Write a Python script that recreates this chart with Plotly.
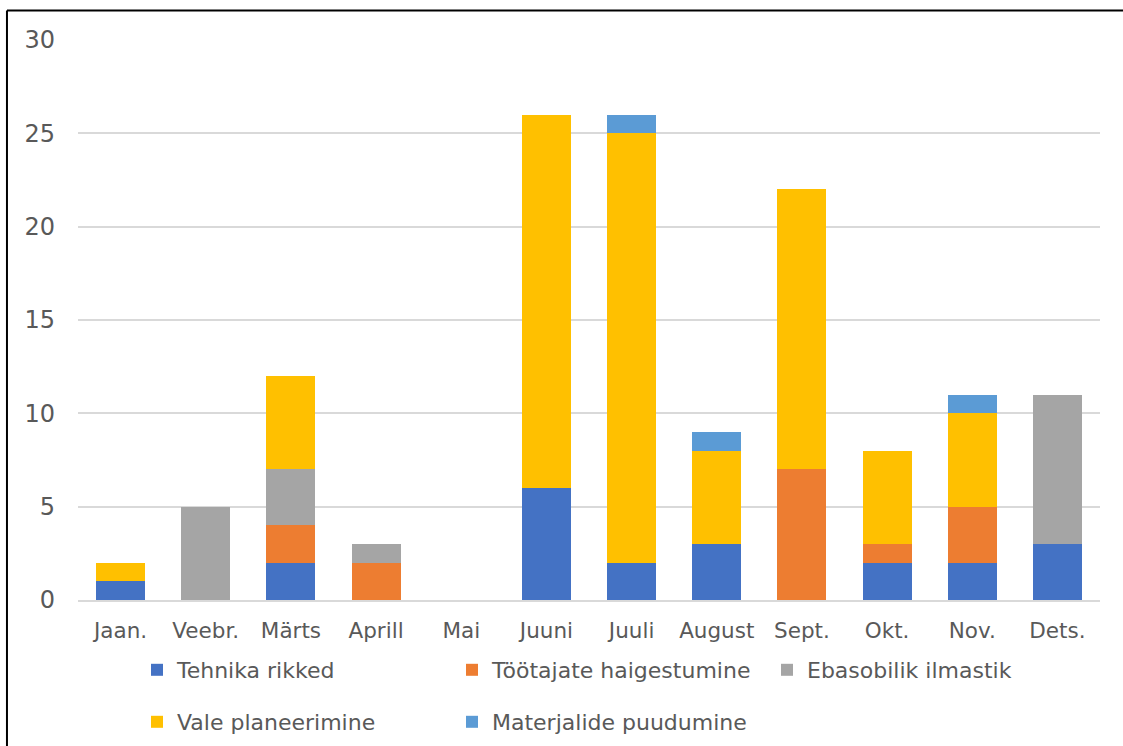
import plotly.graph_objects as go

months = ["Jaan.", "Veebr.", "Märts", "Aprill", "Mai", "Juuni",
          "Juuli", "August", "Sept.", "Okt.", "Nov.", "Dets."]

tehnika_rikked = [1, 0, 2, 0, 0, 6, 2, 3, 0, 2, 2, 3]
tootajate_haigestumine = [0, 0, 2, 2, 0, 0, 0, 0, 7, 1, 3, 0]
ebasobilik_ilmastik = [0, 5, 3, 1, 0, 0, 0, 0, 0, 0, 0, 8]
vale_planeerimine = [1, 0, 5, 0, 0, 20, 23, 5, 15, 5, 5, 0]
materjalide_puudumine = [0, 0, 0, 0, 0, 0, 1, 1, 0, 0, 1, 0]

series = [
    ("Tehnika rikked", tehnika_rikked, "#4472C4", "legend"),
    ("Töötajate haigestumine", tootajate_haigestumine, "#ED7D31", "legend"),
    ("Ebasobilik ilmastik", ebasobilik_ilmastik, "#A5A5A5", "legend"),
    ("Vale planeerimine", vale_planeerimine, "#FFC000", "legend2"),
    ("Materjalide puudumine", materjalide_puudumine, "#5B9BD5", "legend2"),
]

FONT = "DejaVu Sans"
TEXT = "#595959"

fig = go.Figure()
for name, vals, color, leg in series:
    fig.add_trace(go.Bar(
        x=months, y=vals, name=name, legend=leg,
        marker=dict(color=color, line=dict(width=0)),
    ))

legend_common = dict(
    orientation="h", xanchor="left", yanchor="middle",
    xref="container", yref="container",
    font=dict(family=FONT, size=22, color=TEXT),
    entrywidth=270, entrywidthmode="pixels",
    bgcolor="rgba(0,0,0,0)", traceorder="normal",
)

fig.update_layout(
    width=1123, height=746,
    margin=dict(l=78, r=23, t=40, b=146, autoexpand=False),
    barmode="stack", bargap=0.425,
    paper_bgcolor="white", plot_bgcolor="white",
    font=dict(family=FONT, size=21, color=TEXT),
    showlegend=True,
    legend=dict(x=137 / 1123, y=1 - 670 / 746, **legend_common),
    legend2=dict(x=137 / 1123, y=1 - 722 / 746, **legend_common),
    xaxis=dict(
        showgrid=False, showline=True, linecolor="#D9D9D9", linewidth=1.5,
        ticks="", tickfont=dict(family=FONT, size=21.5, color=TEXT),
        ticklabelstandoff=10,
    ),
    yaxis=dict(
        range=[0, 30], dtick=5, showgrid=True, gridcolor="#D9D9D9",
        gridwidth=1.5, zeroline=False, showline=False, ticks="",
        tickfont=dict(family=FONT, size=24, color=TEXT),
        ticklabelstandoff=22,
    ),
    shapes=[
        dict(type="line", xref="paper", yref="paper",
             x0=-0.0695, x1=1.1, y0=1.0527, y1=1.0527,
             line=dict(color="black", width=2)),
        dict(type="line", xref="paper", yref="paper",
             x0=-0.0695, x1=-0.0695, y0=1.0527, y1=-0.35,
             line=dict(color="black", width=2)),
    ],
)

fig.write_html("out.html")
